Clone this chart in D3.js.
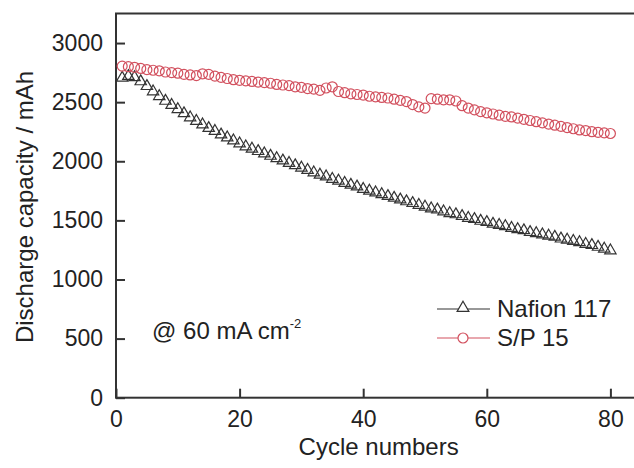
<!DOCTYPE html>
<html>
<head>
<meta charset="utf-8">
<script src="https://cdn.jsdelivr.net/npm/d3@7"></script>
<style>
  body { margin: 0; background: #fff; }
  text { font-family: "Liberation Sans", Arial, sans-serif; fill: #222; }
</style>
</head>
<body>
<div id="chart"></div>
<script>
// cycle numbers 1..80
const cycles = d3.range(1, 81);

// discharge capacity (mAh)
const nafion117 = [
  2705, 2720, 2710, 2675, 2635, 2590, 2550, 2510, 2475, 2440,
  2405, 2370, 2340, 2310, 2280, 2255, 2225, 2200, 2175, 2150,
  2125, 2105, 2085, 2065, 2045, 2025, 2005, 1985, 1965, 1945,
  1925, 1905, 1885, 1870, 1850, 1835, 1815, 1800, 1785, 1765,
  1750, 1735, 1720, 1705, 1690, 1675, 1660, 1645, 1630, 1615,
  1600, 1590, 1575, 1560, 1550, 1535, 1520, 1510, 1495, 1485,
  1470, 1460, 1450, 1435, 1425, 1415, 1400, 1390, 1380, 1370,
  1360, 1345, 1335, 1325, 1315, 1300, 1290, 1275, 1260, 1245
];
const sp15 = [
  2805, 2800, 2795, 2785, 2775, 2770, 2765, 2755, 2750, 2745,
  2735, 2730, 2725, 2740, 2735, 2720, 2710, 2700, 2690, 2685,
  2680, 2675, 2670, 2665, 2660, 2650, 2645, 2640, 2630, 2625,
  2615, 2610, 2600, 2620, 2630, 2590, 2580, 2570, 2565, 2560,
  2550, 2545, 2540, 2535, 2525, 2515, 2505, 2480, 2460, 2450,
  2530, 2525, 2520, 2520, 2510, 2470, 2450, 2435, 2420, 2410,
  2400, 2390, 2380, 2375, 2365, 2355, 2345, 2335, 2325, 2315,
  2305, 2295, 2285, 2275, 2265, 2260, 2250, 2245, 2240, 2235
];

const xTicks = [0, 20, 40, 60, 80];
const yTicks = [0, 500, 1000, 1500, 2000, 2500, 3000];

(function() {
const W = 634, H = 468;
const margin = {left: 116, top: 13.5, bottom: 397.7, right: 641.3};

const black = "#333", red = "#d2505e";

let svg = d3.select("#chart").append("svg")
  .attr("width", W).attr("height", H);

let x = d3.scaleLinear().domain([0, 85]).range([margin.left, margin.right]);
let y = d3.scaleLinear().domain([0, 3250]).range([margin.bottom, margin.top]);

// frame
svg.append("rect")
  .attr("x", margin.left).attr("y", margin.top)
  .attr("width", margin.right - margin.left).attr("height", margin.bottom - margin.top)
  .attr("fill", "none").attr("stroke", black).attr("stroke-width", 2);

// axes, ticks pointing inward
let xAxis = svg.append("g")
  .attr("transform", "translate(0," + margin.bottom + ")")
  .call(d3.axisBottom(x).tickValues(xTicks).tickFormat(d3.format("d"))
    .tickSize(-9).tickSizeOuter(0).tickPadding(13));
let yAxis = svg.append("g")
  .attr("transform", "translate(" + margin.left + ",0)")
  .call(d3.axisLeft(y).tickValues(yTicks).tickFormat(d3.format("d"))
    .tickSize(-9).tickSizeOuter(0).tickPadding(13));

[xAxis, yAxis].forEach(function(a) {
  a.select(".domain").remove();
  a.selectAll(".tick line").attr("stroke", black).attr("stroke-width", 2);
  a.selectAll(".tick text").style("font-size", "23px").attr("fill", "#222");
});

// axis titles
svg.append("text")
  .attr("x", (margin.left + margin.right) / 2).attr("y", 455)
  .attr("text-anchor", "middle").style("font-size", "24px")
  .text("Cycle numbers");
svg.append("text")
  .attr("transform", "translate(33,207) rotate(-90)")
  .attr("text-anchor", "middle").style("font-size", "24px")
  .text("Discharge capacity / mAh");

// data series
let tri = d3.symbol().type(d3.symbolTriangle).size(56);

svg.append("g").selectAll("path")
  .data(cycles)
  .enter().append("path")
  .attr("d", tri)
  .attr("transform", function(d, i) { return "translate(" + x(d) + "," + y(nafion117[i]) + ")"; })
  .attr("fill", "none").attr("stroke", black).attr("stroke-width", 1.2);

svg.append("g").selectAll("circle")
  .data(cycles)
  .enter().append("circle")
  .attr("cx", function(d) { return x(d); })
  .attr("cy", function(d, i) { return y(sp15[i]); })
  .attr("r", 5)
  .attr("fill", "none").attr("stroke", red).attr("stroke-width", 1.2);

// annotation
let note = svg.append("text").attr("x", 152).attr("y", 339).style("font-size", "24px");
note.append("tspan").text("@ 60 mA cm");
note.append("tspan").attr("dy", -11).style("font-size", "13px").text("-2");

// legend
let legend = svg.append("g");
let entries = [
  {name: "Nafion 117", color: black, y: 309, shape: "tri"},
  {name: "S/P 15", color: red, y: 338, shape: "circle"}
];
entries.forEach(function(e) {
  legend.append("line")
    .attr("x1", 437).attr("x2", 490).attr("y1", e.y).attr("y2", e.y)
    .attr("stroke", e.color).attr("stroke-width", 1.2);
  if (e.shape === "tri") {
    legend.append("path").attr("d", d3.symbol().type(d3.symbolTriangle).size(60))
      .attr("transform", "translate(463," + (e.y - 1) + ")")
      .attr("fill", "#fff").attr("stroke", e.color).attr("stroke-width", 1.2);
  } else {
    legend.append("circle").attr("cx", 463).attr("cy", e.y).attr("r", 5)
      .attr("fill", "#fff").attr("stroke", e.color).attr("stroke-width", 1.2);
  }
  legend.append("text").attr("x", 497).attr("y", e.y + 8)
    .style("font-size", "24px").text(e.name);
});
})();
</script>
</body>
</html>
